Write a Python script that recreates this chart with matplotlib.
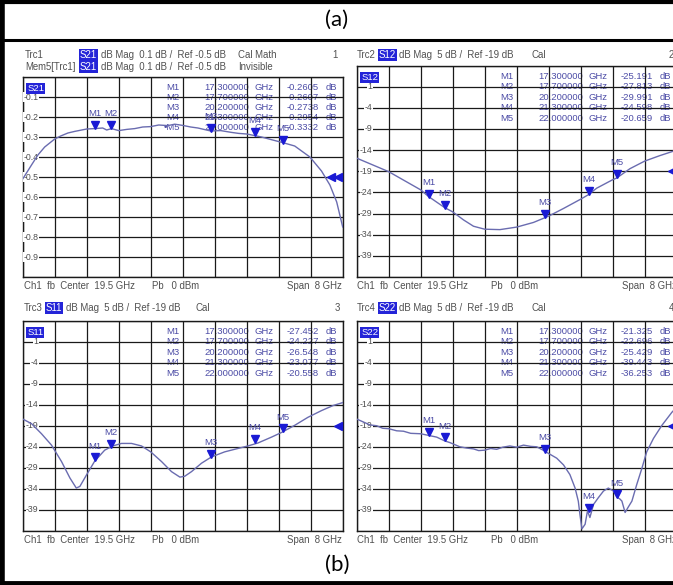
import matplotlib
matplotlib.use("Agg")
import matplotlib.pyplot as plt
import numpy as np
from matplotlib.transforms import offset_copy
from matplotlib.lines import Line2D

plt.rcParams['font.family'] = ['Liberation Sans', 'DejaVu Sans']

# sweep settings
center_ghz = 19.5
span_ghz = 8.0

# traces
s21_f = [15.5, 15.72, 15.88, 16.05, 16.3, 16.45, 16.63, 16.8, 17.1, 17.3, 17.5, 17.6, 17.72,
         17.9, 18.1, 18.3, 18.5, 18.7, 18.9, 19.13, 19.3, 19.5, 19.7, 19.88, 20.2, 20.45,
         20.72, 20.9, 21.1, 21.3, 21.47, 21.75, 22.0, 22.3, 22.68, 22.97, 23.18, 23.35, 23.5]
s21_v = [-0.51, -0.44, -0.39, -0.35, -0.31, -0.295, -0.28, -0.272, -0.26, -0.258, -0.255,
         -0.265, -0.258, -0.268, -0.262, -0.258, -0.25, -0.248, -0.24, -0.243, -0.236,
         -0.242, -0.25, -0.255, -0.27, -0.268, -0.277, -0.282, -0.285, -0.293, -0.30,
         -0.315, -0.328, -0.345, -0.40, -0.47, -0.54, -0.625, -0.75]

s12_f = [15.5, 16.3, 17.1, 17.3, 17.7, 17.9, 18.17, 18.42, 18.7, 19.08, 19.5, 19.92, 20.2,
         20.3, 20.67, 21.1, 21.3, 21.5, 21.9, 22.0, 22.33, 22.7, 23.08, 23.5]
s12_v = [-15.9, -19.1, -23.4, -25.0, -27.6, -28.6, -30.5, -32.0, -32.7, -32.8, -32.2, -31.1,
         -30.0, -29.6, -27.8, -25.6, -24.5, -23.0, -21.0, -20.6, -18.4, -16.6, -15.3, -14.0]

s11_f = [15.5, 15.72, 15.97, 16.22, 16.47, 16.68, 16.84, 16.93, 17.1, 17.3, 17.55, 17.75,
         17.97, 18.22, 18.47, 18.7, 18.97, 19.22, 19.43, 19.55, 19.72, 19.97, 20.22, 20.55,
         20.88, 21.13, 21.38, 21.72, 21.97, 22.3, 22.63, 22.97, 23.26, 23.5]
s11_v = [-17.4, -18.5, -20.9, -23.6, -27.5, -31.4, -33.8, -33.4, -30.6, -27.4, -24.8, -23.8,
         -23.2, -23.2, -23.8, -25.2, -27.5, -29.9, -31.2, -31.0, -29.9, -27.9, -26.4, -25.2,
         -24.4, -23.8, -23.1, -21.7, -20.6, -18.9, -17.0, -15.4, -14.2, -13.5]

s22_f = [15.5, 15.83, 16.0, 16.15, 16.3, 16.5, 16.67, 16.85, 17.1, 17.3, 17.5, 17.7, 17.83,
         18.08, 18.25, 18.42, 18.55, 18.7, 18.85, 19.0, 19.15, 19.33, 19.5, 19.67, 19.85,
         20.0, 20.2, 20.3, 20.5, 20.67, 20.83, 20.96, 21.04, 21.08, 21.13, 21.21, 21.27,
         21.33, 21.42, 21.54, 21.67, 21.79, 21.92, 22.0, 22.08, 22.13, 22.21, 22.29, 22.38,
         22.5, 22.63, 22.75, 22.92, 23.13, 23.38, 23.5]
s22_v = [-17.4, -18.8, -19.0, -19.6, -19.7, -20.2, -20.3, -20.8, -20.9, -21.3, -21.7, -22.6,
         -23.0, -24.0, -24.3, -24.5, -24.9, -24.8, -24.4, -24.6, -24.1, -23.8, -24.1, -23.6,
         -23.9, -24.0, -25.0, -25.6, -26.7, -28.3, -30.6, -33.8, -36.9, -40.0, -43.5, -42.4,
         -39.2, -40.8, -37.7, -36.1, -34.5, -33.8, -34.5, -35.9, -36.4, -36.9, -39.6, -38.3,
         -36.9, -33.0, -29.1, -25.2, -22.0, -18.9, -15.8, -14.6]

# markers
mk_names = ['M1', 'M2', 'M3', 'M4', 'M5']
mk_freq = [17.3, 17.7, 20.2, 21.3, 22.0]
mk_freq_txt = ['17.300000', '17.700000', '20.200000', '21.300000', '22.000000']
s21_mk = [-0.2605, -0.2607, -0.2738, -0.2954, -0.3332]
s12_mk = [-25.191, -27.813, -29.991, -24.598, -20.659]
s11_mk = [-27.452, -24.227, -26.548, -23.077, -20.558]
s22_mk = [-21.325, -22.696, -25.429, -39.443, -36.253]

W, H = 673, 585
fig = plt.figure(figsize=(W / 100, H / 100), dpi=100)

trace_col = '#6a6cb0'
mk_col = '#1a1ad4'
tab_col = '#4c4ca6'
txt_col = '#505050'
hl_col = '#2424d8'


def fx(x):
    return x / W


def fy(y):
    return 1 - y / H


def ftext(x, y, s, **kw):
    kw.setdefault('color', txt_col)
    kw.setdefault('fontsize', 6.9)
    kw.setdefault('va', 'center')
    return fig.text(fx(x), fy(y), s, **kw)


def hl(x, y, s):
    ftext(x, y, s, color='white',
          bbox=dict(facecolor=hl_col, edgecolor='none', pad=0.6))


def panel(box, name, f, v, mk_v, ylo, yhi, fmt, valfmt, rows, arrows, ref):
    x0, y0, x1, y1 = box
    ax = fig.add_axes([fx(x0), fy(y1), (x1 - x0) / W, (y1 - y0) / H])
    ax.set_xlim(center_ghz - span_ghz / 2, center_ghz + span_ghz / 2)
    ax.set_ylim(ylo, yhi)
    ax.set_xticks(np.linspace(center_ghz - span_ghz / 2, center_ghz + span_ghz / 2, 11))
    yt = np.linspace(ylo, yhi, 11)
    ax.set_yticks(yt)
    ax.tick_params(length=0, labelbottom=False, labelleft=False)
    ax.grid(True, color='#1a1a1a', lw=0.9)
    ax.set_axisbelow(False)
    for sp in ax.spines.values():
        sp.set_color('#1a1a1a')
        sp.set_linewidth(1.0)

    ax.plot(f, v, color=trace_col, lw=1.0, zorder=3)

    # y labels drawn inside the grid
    ytr = ax.get_yaxis_transform()
    for t in yt[1:-1]:
        ax.text(0.05, t, fmt.format(t), transform=ytr, ha='right', va='center',
                fontsize=6.3, color=txt_col, zorder=2.8,
                bbox=dict(facecolor='white', edgecolor='none', pad=0.4))

    ax.text(0.014, 0.965, name, transform=ax.transAxes, ha='left', va='top',
            fontsize=6.8, color='white', zorder=5,
            bbox=dict(facecolor=hl_col, edgecolor='none', pad=0.6))

    # marker table, under the grid lines
    for i in range(5):
        r = rows[i]
        lab = ('\u2022' if (name == 'S21' and i == 4) else '') + mk_names[i]
        kw = dict(transform=ytr, va='center', fontsize=6.8, color=tab_col, zorder=1)
        ax.text(0.491, r, lab, ha='right', **kw)
        ax.text(0.569, r, mk_freq_txt[i], ha='left', **kw)
        ax.text(0.725, r, 'GHz', ha='left', **kw)
        ax.text(0.925, r, valfmt.format(mk_v[i]), ha='right', **kw)
        ax.text(0.947, r, 'dB', ha='left', **kw)

    # marker triangles with labels
    tri = offset_copy(ax.transData, fig=fig, x=0, y=2.8, units='points')
    ax.plot(mk_freq, mk_v, ls='none', marker='v', ms=5.8, color=mk_col,
            transform=tri, zorder=4)
    for i in range(5):
        ax.annotate(mk_names[i], (mk_freq[i], mk_v[i]), xytext=(0, 11),
                    textcoords='offset points', ha='center', va='center',
                    fontsize=6.8, color=tab_col, zorder=4)

    # reference level arrows at right edge
    for xa in arrows:
        ax.plot([xa], [ref], marker='<', ms=5.5, color=mk_col, ls='none',
                transform=ytr, clip_on=False, zorder=5)
    return ax


left_box_top = (22.7, 77, 342.7, 277)
right_box_top = (356.7, 65.5, 676.7, 277)
left_box_bot = (22.7, 320.5, 342.7, 531)
right_box_bot = (356.7, 320.5, 676.7, 531)

db_rows = [3.5, 1, -1.5, -4, -6.5]
panel(left_box_top, 'S21', s21_f, s21_v, s21_mk, -1.0, 0.0, '{:.1f}', '{:.4f}',
      [-0.05, -0.1, -0.15, -0.2, -0.25], [0.962, 0.985], -0.5)
panel(right_box_top, 'S12', s12_f, s12_v, s12_mk, -44, 6, '{:.0f}', '{:.3f}',
      db_rows, [0.985], -19)
panel(left_box_bot, 'S11', s11_f, s11_v, s11_mk, -44, 6, '{:.0f}', '{:.3f}',
      db_rows, [0.985], -19)
panel(right_box_bot, 'S22', s22_f, s22_v, s22_mk, -44, 6, '{:.0f}', '{:.3f}',
      db_rows, [0.985], -19)

# headers
ftext(25, 55, 'Trc1')
hl(80, 55, 'S21')
ftext(101, 55, 'dB Mag  0.1 dB /  Ref -0.5 dB')
ftext(238, 55, 'Cal Math')
ftext(338, 55, '1', ha='right')
ftext(25, 67, 'Mem5[Trc1]')
hl(80, 67, 'S21')
ftext(101, 67, 'dB Mag  0.1 dB /  Ref -0.5 dB')
ftext(238, 67, 'Invisible')

ftext(357, 55, 'Trc2')
hl(379, 55, 'S12')
ftext(399, 55, 'dB Mag  5 dB /  Ref -19 dB')
ftext(531, 55, 'Cal')
ftext(669, 55, '2')

ftext(24, 308, 'Trc3')
hl(46, 308, 'S11')
ftext(66, 308, 'dB Mag  5 dB /  Ref -19 dB')
ftext(196, 308, 'Cal')
ftext(340, 308, '3', ha='right')

ftext(357, 308, 'Trc4')
hl(379, 308, 'S22')
ftext(399, 308, 'dB Mag  5 dB /  Ref -19 dB')
ftext(531, 308, 'Cal')
ftext(669, 308, '4')

# footers
for yy in (286, 540):
    ftext(24, yy, 'Ch1  fb  Center  19.5 GHz')
    ftext(152, yy, 'Pb   0 dBm')
    ftext(342, yy, 'Span  8 GHz', ha='right')
    ftext(357, yy, 'Ch1  fb  Center  19.5 GHz')
    ftext(491, yy, 'Pb   0 dBm')
    ftext(622, yy, 'Span  8 GHz')

# panel captions
fig.text(fx(337), fy(20), '(a)', ha='center', va='center', fontsize=16,
         family=['Lato', 'DejaVu Sans'], color='black')
fig.text(fx(337), fy(565), '(b)', ha='center', va='center', fontsize=16,
         family=['Lato', 'DejaVu Sans'], color='black')

# outer frame
for xs, ys, lw in [((0, W), (2, 2), 3), ((0, W), (40, 40), 2.2), ((0, W), (583, 583), 3.5),
                   ((2, 2), (0, H), 4)]:
    fig.add_artist(Line2D([fx(xs[0]), fx(xs[1])], [fy(ys[0]), fy(ys[1])],
                          color='black', lw=lw, transform=fig.transFigure))

fig.savefig('out.png', dpi=100)
